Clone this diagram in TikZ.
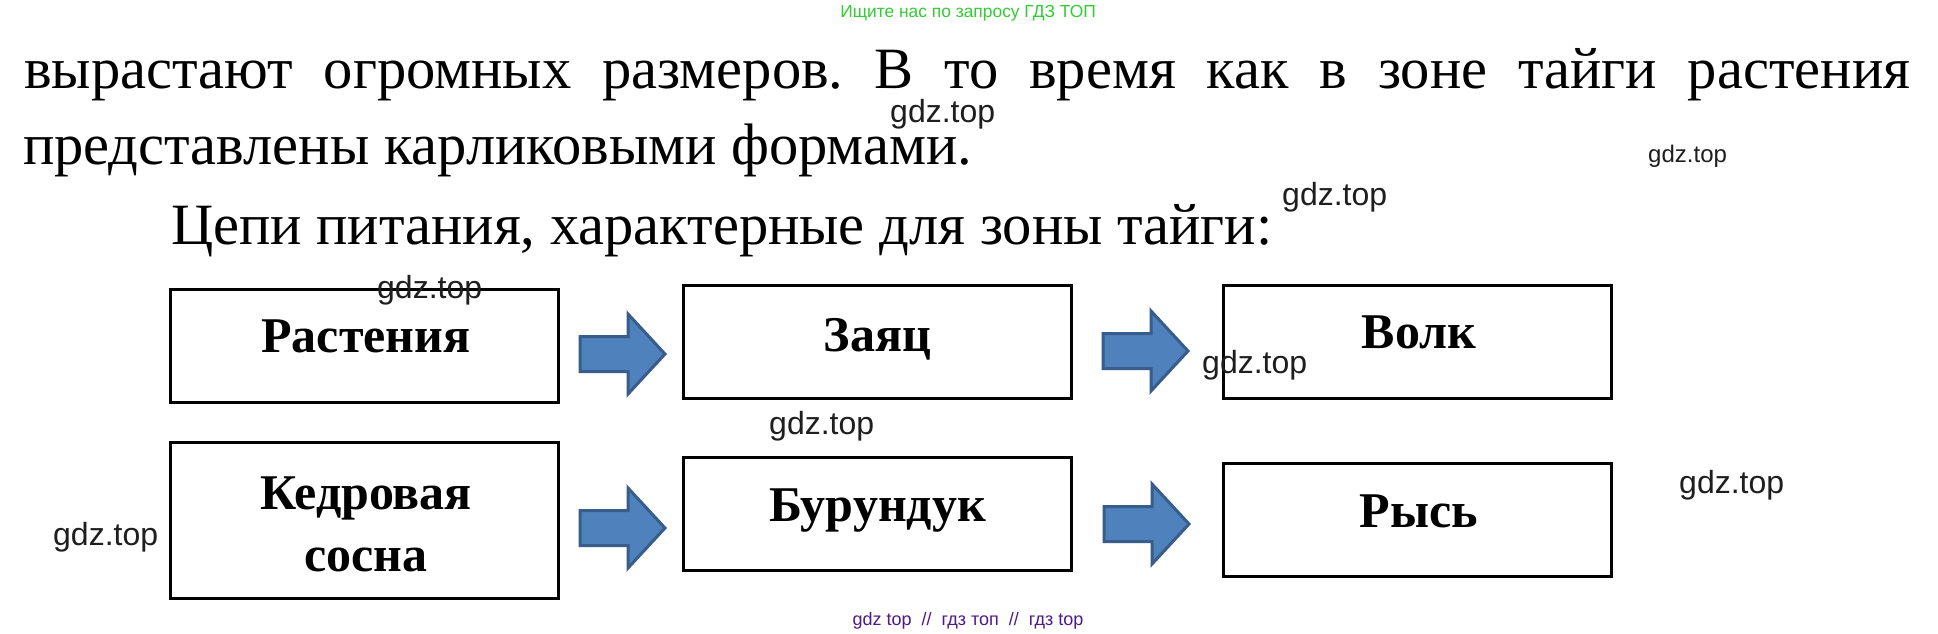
\documentclass[tikz,border=0pt]{standalone}
\usepackage{fontspec}
\setmainfont{Liberation Serif}
\newfontfamily\wmfont{Liberation Sans}
\definecolor{arrowfill}{HTML}{4F81BD}
\definecolor{arrowline}{HTML}{385D8A}
\definecolor{topgreen}{HTML}{33CC33}
\definecolor{botpurple}{HTML}{4E1A86}
\definecolor{wmgray}{HTML}{1E1E1E}
\tikzset{
  body/.style={anchor=base west, inner sep=0pt, font=\fontsize{58.5}{58.5}\selectfont},
  chainbox/.style={draw=black, line width=3pt, fill=white, inner sep=0pt},
  boxtext/.style={anchor=base, inner sep=0pt, font=\fontsize{50}{62}\selectfont\bfseries, align=center},
  barrow/.style={fill=arrowfill, draw=arrowline, line width=3pt, line join=miter},
  wm/.style={anchor=base west, inner sep=0pt, text=wmgray, font=\wmfont\fontsize{32}{32}\selectfont},
  wmsmall/.style={wm, font=\wmfont\fontsize{24}{24}\selectfont}
}
\begin{document}
\frenchspacing
\begin{tikzpicture}[x=1pt,y=-1pt]
\useasboundingbox (0,0) rectangle (1938,633);
\fill[white] (0,0) rectangle (1938,633);

% header
\node[anchor=base, inner sep=0pt, text=topgreen, font=\wmfont\fontsize{17.4}{17.4}\selectfont] (hdr) at (968,17) {Ищите нас по запросу ГДЗ ТОП};

% paragraph
\node[body] (l1) at (24,88) {\makebox[1886pt][s]{вырастают огромных размеров. В то время как в зоне тайги растения}};
\node[body] (l2) at (23,164.5) {представлены карликовыми формами.};
\node[body] (l3) at (171,244.5) {Цепи питания, характерные для зоны тайги:};

% boxes row 1
\node[chainbox, minimum width=388pt, minimum height=113pt] (rast) at (364.5,345.5) {};
\node[chainbox, minimum width=388pt, minimum height=112.5pt] (zayac) at (877.5,341.75) {};
\node[chainbox, minimum width=388pt, minimum height=112.5pt] (volk) at (1417.5,341.75) {};
% boxes row 2
\node[chainbox, minimum width=388pt, minimum height=155.5pt] (kedr) at (364.5,520.25) {};
\node[chainbox, minimum width=388pt, minimum height=113pt] (burun) at (877.5,513.5) {};
\node[chainbox, minimum width=388pt, minimum height=112.5pt] (rys) at (1417.5,519.75) {};

% box texts
\node[boxtext] (trast) at (366,352) {Растения};
\node[boxtext] (tzayac) at (877.5,351) {Заяц};
\node[boxtext] (tvolk) at (1419,348.5) {Волк};
\node[boxtext] (tkedr1) at (366,509) {Кедровая};
\node[boxtext] (tkedr2) at (366,571) {сосна};
\node[boxtext] (tburun) at (877.5,521.5) {Бурундук};
\node[boxtext] (trys) at (1419,527.5) {Рысь};

% block arrows
\begin{scope}[shift={(580,354)}]
\draw[barrow] (0,-17.5) -- (48,-17.5) -- (48,-40) -- (85,0) -- (48,40) -- (48,17.5) -- (0,17.5) -- cycle;
\end{scope}
\begin{scope}[shift={(1103,351)}]
\draw[barrow] (0,-17.5) -- (48,-17.5) -- (48,-40) -- (85,0) -- (48,40) -- (48,17.5) -- (0,17.5) -- cycle;
\end{scope}
\begin{scope}[shift={(580,528)}]
\draw[barrow] (0,-17.5) -- (48,-17.5) -- (48,-40) -- (85,0) -- (48,40) -- (48,17.5) -- (0,17.5) -- cycle;
\end{scope}
\begin{scope}[shift={(1104,524)}]
\draw[barrow] (0,-17.5) -- (48,-17.5) -- (48,-40) -- (85,0) -- (48,40) -- (48,17.5) -- (0,17.5) -- cycle;
\end{scope}

% watermarks
\node[wm] (w1) at (890,122) {gdz.top};
\node[wmsmall] (w2) at (1648,162) {gdz.top};
\node[wm] (w3) at (1282,205) {gdz.top};
\node[wm] (w4) at (377,298) {gdz.top};
\node[wm] (w5) at (1202,373) {gdz.top};
\node[wm] (w6) at (769,434) {gdz.top};
\node[wm] (w7) at (53,545) {gdz.top};
\node[wm] (w8) at (1679,493) {gdz.top};

% footer
\node[anchor=base, inner sep=0pt, text=botpurple, font=\wmfont\fontsize{18}{18}\selectfont] (ftr) at (968,625) {gdz top\ \ //\ \ гдз топ\ \ //\ \ гдз top};
\end{tikzpicture}
\end{document}
